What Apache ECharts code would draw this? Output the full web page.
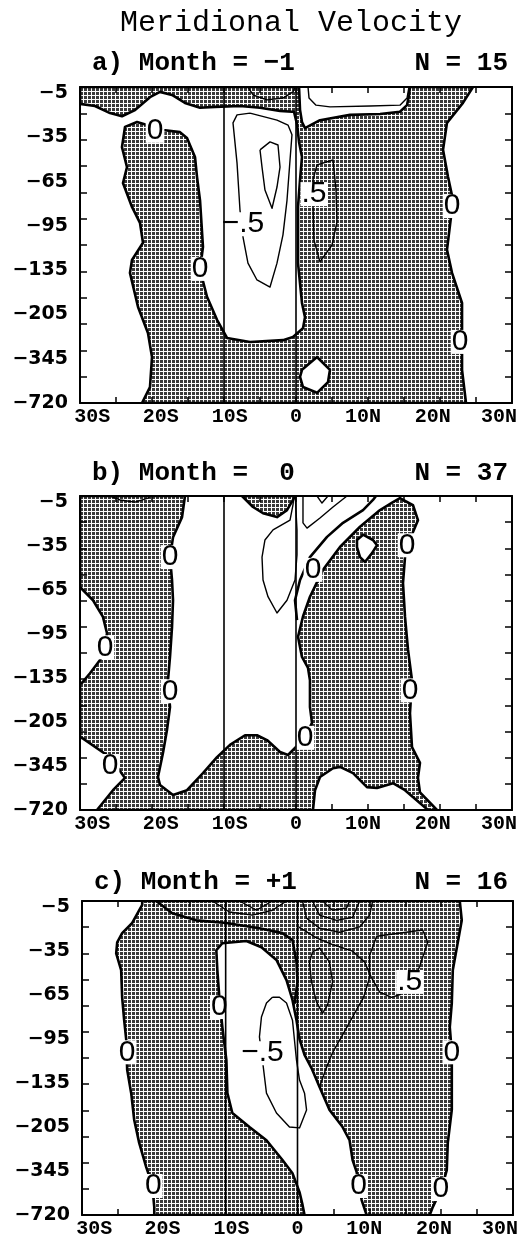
<!DOCTYPE html>
<html>
<head>
<meta charset="utf-8">
<script src="https://cdn.jsdelivr.net/npm/echarts@6.0.0/dist/echarts.min.js"></script>
<style>
html,body{margin:0;padding:0;background:#fff;}
#chart{width:524px;height:1246px;}
</style>
</head>
<body>
<div id="chart"></div>
<script>
// ---------- texts and tick labels ----------
const chartTitle = 'Meridional Velocity';
const panelTitles = ['a) Month = \u22121', 'b) Month =  0', 'c) Month = +1'];
const panelCounts = ['N = 15', 'N = 37', 'N = 16'];
const latLabels = ['30S', '20S', '10S', '0', '10N', '20N', '30N'];
const depthLabels = ['\u22125', '\u221235', '\u221265', '\u221295', '\u2212135', '\u2212205', '\u2212345', '\u2212720'];

// Coordinates: [latitude (deg, S negative), depth level index (0 = -5 m ... 7 = -720 m)]
// ---------- panel a (Month = -1) ----------
const aShaded = [
  [[-30,-0.14],[0.42,-0.14],[0.56,0.38],[0.83,0.65],[1.25,0.79],[3.33,0.61],[7.5,0.49],[11.67,0.47],[14.44,0.42],[15.42,0.27],[15.69,0.04],[15.83,-0.14],[24.58,-0.14],[23.19,0.22],[20.97,0.67],[20.42,1.28],[21.11,1.89],[21.81,2.42],[21.39,2.98],[20.97,3.54],[21.67,4.06],[23.06,4.74],[23.06,5.58],[23.06,6.25],[23.61,7],[-21.39,7],[-20.28,6.64],[-20,5.96],[-20.56,5.42],[-21.94,4.83],[-23.06,4.06],[-22.78,3.77],[-21.25,3.38],[-21.67,2.93],[-22.78,2.57],[-24.03,2.03],[-23.47,1.67],[-24.17,1.22],[-23.75,0.76],[-22.08,0.65],[-20.69,0.72],[-18.47,0.83],[-16.11,0.88],[-15.14,1.01],[-14.03,1.44],[-13.75,1.89],[-13.33,2.42],[-12.92,3.47],[-13.33,3.99],[-12.36,4.6],[-10.97,5.12],[-9.58,5.53],[-6.39,5.62],[-1.81,5.58],[-0.42,5.51],[0.97,5.31],[1.25,5.06],[0.83,4.74],[0.28,3.84],[0.28,2.57],[0.56,1.96],[0.83,1.44],[0.42,1.1],[0.14,0.7],[-0.28,0.42],[-0.56,0.42],[-2.22,0.4],[-5,0.33],[-7.78,0.29],[-11.25,0.31],[-13.33,0.33],[-15.42,0.22],[-17.22,0.04],[-18.89,-0.03],[-20.28,0.09],[-22.36,0.38],[-24.17,0.52],[-25.83,0.45],[-27.92,0.29],[-30,0.24]]
];
const aHoles = [
  [[0.83,6.25],[2.92,5.96],[4.72,6.25],[4.44,6.53],[2.92,6.77],[0.97,6.64],[0.56,6.41]]
];
const aThick = [];
const aThin = [
  [[-6.39,0.45],[-8.19,0.49],[-8.75,0.67],[-8.19,1.58],[-7.78,2.64],[-7.36,3.25],[-6.67,3.84],[-5.42,4.22],[-3.61,4.38],[-2.64,3.84],[-1.81,3.2],[-1.25,2.42],[-0.83,1.51],[-0.56,0.94],[-1.11,0.72],[-2.64,0.61],[-6.39,0.45]],
  [[-5,1.28],[-3.61,1.1],[-2.5,1.17],[-2.22,1.67],[-2.64,2.12],[-3.33,2.6],[-4.31,2.19],[-4.72,1.67],[-5,1.28]],
  [[-6.67,-0.14],[-5.97,0.04],[-4.03,0.15],[-1.81,0.11],[-0.42,-0.03],[-0.14,-0.14]],
  [[1.67,-0.14],[1.81,0.11],[2.78,0.27],[4.72,0.31],[10.28,0.29],[14.44,0.27],[15.42,0.11],[15.69,-0.14]],
  [[2.92,1.62],[5.14,1.51],[5.56,2.19],[5.69,2.91],[5,3.43],[3.33,3.81],[2.5,3.32],[2.36,2.57],[2.36,1.96],[2.92,1.62]]
];
const aLabels = [['0',-19.58,0.85],['0',-13.33,3.97],['0',21.67,2.55],['0',22.78,5.62],['.5',2.5,2.28],['\u2212.5',-7.36,2.96]];

// ---------- panel b (Month = 0) ----------
const bShaded = [
  [[-30,-0.14],[-15.42,-0.14],[-15.83,0.34],[-17.08,0.8],[-17.5,1.25],[-17.22,1.77],[-17.08,2.23],[-17.22,2.84],[-17.5,3.52],[-17.78,4.05],[-17.5,4.66],[-17.92,5.18],[-18.47,5.7],[-19.17,6.25],[-18.89,6.43],[-17.08,6.66],[-15.14,6.55],[-12.92,6.16],[-10.97,5.8],[-9.17,5.52],[-7.08,5.3],[-5.42,5.3],[-4.03,5.41],[-2.22,5.68],[-1.11,5.75],[-0.14,5.59],[1.25,5.36],[2.22,5.02],[1.94,4.66],[1.94,4.05],[1.67,3.77],[0.83,3.52],[0.28,3.06],[0.97,2.6],[1.94,2.15],[3.75,1.54],[6.11,1.02],[8.89,0.56],[11.67,0.18],[13.47,0],[14.44,-0.09],[16.25,0.07],[16.94,0.41],[16.25,0.68],[15.42,0.98],[15.14,1.25],[14.86,1.84],[15.14,2.61],[15.56,3.36],[16.11,4.05],[15.83,4.8],[16.11,5.57],[17.22,5.93],[16.94,6.27],[17.22,6.6],[19.58,7],[18.33,7],[15.14,6.55],[13.47,6.39],[11.25,6.5],[9.86,6.48],[7.92,6.16],[6.11,6.02],[5.14,6.05],[3.33,6.25],[2.64,6.55],[2.36,7],[-27.64,7],[-25.42,6.55],[-23.75,6.27],[-25.83,5.8],[-29.72,5.36],[-30,5.36],[-30,4.11],[-29.72,4.11],[-28.61,3.89],[-27.22,3.59],[-26.53,3.3],[-26.25,2.98],[-26.81,2.61],[-28.19,2.23],[-30,1.93]],
  [[-7.5,-0.14],[-5.97,0.11],[-4.58,0.25],[-2.64,0.34],[-1.25,0.18],[-0.42,-0.05],[-0.14,-0.14]]
];
const bHoles = [
  [[8.47,0.86],[9.31,0.74],[10.69,0.86],[11.25,0.98],[10.56,1.16],[9.58,1.36],[8.89,1.25],[8.47,1.02]]
];
const bThick = [
  [[0.14,2.68],[-0.14,2.23],[0.56,1.77],[1.94,1.25],[4.31,0.79],[6.53,0.47],[9.31,0.18],[10.69,-0.05],[11.11,-0.14]]
];
const bThin = [
  [[-0.28,-0.14],[-0.42,0.06],[-0.83,0.41],[-3.19,0.63],[-4.31,0.86],[-4.72,1.25],[-4.58,1.77],[-3.89,2.15],[-2.64,2.52],[-1.25,2.23],[-0.14,1.77],[0.14,1.2],[0.14,0.63],[0,0.2],[-0.1,-0.14]],
  [[0.97,-0.14],[0.97,0.47],[1.53,0.59],[3.33,0.36],[5.14,0.11],[7.08,-0.14]],
  [[2.92,-0.14],[3.61,0.02],[4.44,-0.14]],
  [[-25.83,-0.14],[-24.44,-0.05],[-22.36,0],[-20.56,-0.09],[-20.28,-0.14]]
];
const bLabels = [['0',-17.5,1.25],['0',-26.53,3.3],['0',-17.5,4.3],['0',-25.83,6.0],['0',1.25,5.36],['0',15.42,0.98],['0',2.36,1.54],['0',15.83,4.28]];

// ---------- panel c (Month = +1) ----------
const cShaded = [
  [[-21.62,-0.14],[22.59,-0.14],[22.87,0.3],[21.62,1.43],[21.48,2.18],[21.2,2.73],[21.48,3.3],[21.48,3.77],[21.48,4.61],[20.92,5.36],[20.78,5.98],[20.08,6.39],[18.83,6.82],[18.41,7],[9.62,7],[8.93,6.66],[8.23,6.02],[7.67,5.75],[7.25,5.3],[6.28,5],[4.46,4.61],[3.07,4.09],[1.95,3.66],[0.98,3.36],[0.28,3],[-0.14,2.57],[-0.7,2.11],[-1.53,1.66],[-2.93,1.2],[-5.02,0.91],[-7.11,0.77],[-10.46,0.82],[-11.3,0.98],[-11.16,1.43],[-10.88,2.05],[-10.46,2.73],[-9.9,3.48],[-9.76,4.23],[-9.07,4.68],[-6.69,5],[-4.32,5.3],[-2.09,5.75],[-0.7,6.05],[0.28,6.48],[0.7,6.77],[0.98,7],[-19.94,7],[-19.94,6.82],[-20.22,6.32],[-21.06,5.91],[-22.04,5.36],[-22.73,4.84],[-23.15,4.23],[-23.71,3.7],[-23.85,3],[-24.13,2.57],[-24.41,2.05],[-24.55,1.43],[-25.24,1.05],[-25.1,0.8],[-24.41,0.59],[-23.01,0.36],[-21.62,-0.05]]
];
const cHoles = [];
const cThick = [
  [[-19.67,-0.14],[-17.43,0.14],[-14.09,0.3],[-9.9,0.36],[-5.3,0.48],[-2.09,0.59],[-0.7,0.75],[-0.14,1.25],[0,1.7],[-0.42,2.2]]
];
const cThin = [
  [[-3.49,2.05],[-4.32,2.18],[-5.02,2.5],[-5.3,2.95],[-4.88,3.48],[-4.32,4.23],[-2.93,4.68],[-1.12,5],[0.28,5.02],[1.26,4.61],[0.98,4.23],[0.28,3.93],[-0.14,3.48],[-0.7,2.57],[-1.53,2.18],[-2.51,2.05],[-3.49,2.05]],
  [[1.67,1.25],[2.09,1.02],[3.07,0.93],[4.46,1.25],[4.88,1.7],[4.18,2.23],[3.49,2.41],[2.65,2.16],[1.95,1.7],[1.67,1.25]],
  [[0.7,-0.14],[1.26,0.25],[3.07,0.48],[5.86,0.57],[8.65,0.45],[10.04,0.18],[10.46,-0.14]],
  [[2.09,-0.14],[3.07,0.18],[5.44,0.3],[7.67,0.23],[8.65,-0.14]],
  [[3.49,-0.14],[4.88,0.07],[6.83,0.02],[7.25,-0.14]],
  [[0.14,0.45],[2.65,0.7],[4.88,0.85],[7.67,1.0],[9.34,1.25],[10.32,1.61],[11.44,1.93],[13.1,2.05],[14.4,1.98]],
  [[15.9,1.8],[17.0,1.35],[18.13,0.8],[17.43,0.52],[11.02,0.66],[10.04,1.1],[10.04,1.6],[9.2,2.05],[8.0,2.4],[6.3,2.9],[4.9,3.3],[3.9,3.7],[3.07,4.09]],
  [[-11.85,-0.14],[-9.48,0.11],[-6.28,0.18],[-3.49,0.07],[-1.53,-0.14]],
  [[-8.09,-0.14],[-5.72,0.07],[-3.49,-0.14]]
];
const cLabels = [['0',-10.88,2.27],['0',-23.71,3.3],['0',21.48,3.3],['\u2212.5',-4.88,3.32],['.5',15.62,1.7],['0',-20.08,6.34],['0',8.51,6.34],['0',19.94,6.41]];

// ---------- layout / style (not data) ----------
const panels = [
  {shaded:aShaded, holes:aHoles, thick:aThick, thin:aThin, labels:aLabels, top:87,  height:316, left:80, width:432, titleY:63},
  {shaded:bShaded, holes:bHoles, thick:bThick, thin:bThin, labels:bLabels, top:496, height:314, left:80, width:432, titleY:473},
  {shaded:cShaded, holes:cHoles, thick:cThick, thin:cThin, labels:cLabels, top:901, height:314, left:82, width:431, titleY:882}
];
const Y_MIN = -0.14, Y_MAX = 7;
const yTickVals = Array.from({length:13}, (_, k) => Y_MIN + k * (Y_MAX - Y_MIN) / 12);
const xTickVals = [-25,-20,-15,-10,-5,0,5,10,15,20,25];
const xLabelPos = [-28.3,-18.8,-9.2,0,9.3,19,28.2];
const refLats = [-10, 0];

function makeHatch() {
  const c = document.createElement('canvas');
  c.width = 4; c.height = 4;
  const g = c.getContext('2d');
  g.fillStyle = '#ffffff'; g.fillRect(0, 0, 4, 4);
  g.fillStyle = '#3a3a3a'; g.fillRect(0, 0, 3, 3);
  return c;
}
const hatch = {image: makeHatch(), repeat: 'repeat'};

function nearestIdx(arr, v) {
  let b = 0;
  for (let i = 1; i < arr.length; i++) if (Math.abs(arr[i] - v) < Math.abs(arr[b] - v)) b = i;
  return b;
}

const grids = [], xAxes = [], yAxes = [], series = [], graphics = [];
graphics.push({type:'text', x:291, y:23, z:100, style:{text:chartTitle, font:'30px "Liberation Mono", monospace', fill:'#000', align:'center', verticalAlign:'middle'}});

panels.forEach((P, i) => {
  grids.push({left:P.left, top:P.top, width:P.width, height:P.height, show:false});
  const lineStyle = {color:'#000', width:2};
  xAxes.push({
    type:'value', gridIndex:i, position:'bottom', min:-30, max:30, z:20,
    axisLine:{show:true, onZero:false, lineStyle},
    axisTick:{show:true, inside:true, length:6, customValues:xTickVals, lineStyle:{color:'#000', width:1.5}},
    axisLabel:{show:true, customValues:xLabelPos, margin:4, color:'#000',
      fontFamily:'"Liberation Mono", monospace', fontWeight:'bold', fontSize:20,
      formatter:(v) => latLabels[nearestIdx(xLabelPos, v)]},
    splitLine:{show:false}
  });
  xAxes.push({
    type:'value', gridIndex:i, position:'top', min:-30, max:30, z:20,
    axisLine:{show:true, onZero:false, lineStyle},
    axisTick:{show:true, inside:true, length:6, customValues:xTickVals, lineStyle:{color:'#000', width:1.5}},
    axisLabel:{show:false}, splitLine:{show:false}
  });
  yAxes.push({
    type:'value', gridIndex:i, position:'left', min:Y_MIN, max:Y_MAX, inverse:true, z:20,
    axisLine:{show:true, onZero:false, lineStyle},
    axisTick:{show:true, inside:true, length:7, customValues:yTickVals, lineStyle:{color:'#000', width:1.5}},
    axisLabel:{show:true, customValues:[0,1,2,3,4,5,6,7], margin:12, color:'#000',
      fontFamily:'"DejaVu Sans", sans-serif', fontWeight:'bold', fontSize:19,
      formatter:(v) => depthLabels[Math.round(v)]},
    splitLine:{show:false}
  });
  yAxes.push({
    type:'value', gridIndex:i, position:'right', min:Y_MIN, max:Y_MAX, inverse:true, z:20,
    axisLine:{show:true, onZero:false, lineStyle},
    axisTick:{show:true, inside:true, length:7, customValues:yTickVals, lineStyle:{color:'#000', width:1.5}},
    axisLabel:{show:false}, splitLine:{show:false}
  });
  const base = {type:'custom', coordinateSystem:'cartesian2d', xAxisIndex:2*i, yAxisIndex:2*i, clip:true, silent:true, animation:false};

  series.push(Object.assign({}, base, {z:2, data:P.shaded.map(() => [0,0]),
    renderItem:(params, api) => ({type:'polygon', shape:{points:P.shaded[params.dataIndex].map(p => api.coord(p))},
      style:{fill:hatch, stroke:'#000', lineWidth:2.6, lineJoin:'round'}})}));
  series.push(Object.assign({}, base, {z:3, data:P.holes.map(() => [0,0]),
    renderItem:(params, api) => ({type:'polygon', shape:{points:P.holes[params.dataIndex].map(p => api.coord(p))},
      style:{fill:'#fff', stroke:'#000', lineWidth:2.6, lineJoin:'round'}})}));
  series.push(Object.assign({}, base, {z:4, data:P.thick.map(() => [0,0]),
    renderItem:(params, api) => ({type:'polyline', shape:{points:P.thick[params.dataIndex].map(p => api.coord(p))},
      style:{fill:'none', stroke:'#000', lineWidth:2.6, lineJoin:'round'}})}));
  series.push(Object.assign({}, base, {z:4, data:P.thin.map(() => [0,0]),
    renderItem:(params, api) => ({type:'polyline', shape:{points:P.thin[params.dataIndex].map(p => api.coord(p))},
      style:{fill:'none', stroke:'#000', lineWidth:1.4, lineJoin:'round'}})}));
  series.push(Object.assign({}, base, {z:5, clip:false, data:P.labels.map(() => [0,0]),
    renderItem:(params, api) => {
      const L = P.labels[params.dataIndex];
      const p = api.coord([L[1], L[2]]);
      const zero = L[0] === '0';
      return {type:'text', x:p[0], y:p[1], style:{text:L[0], fill:'#000',
        font: zero ? '30px "Liberation Sans Narrow", "Liberation Sans", sans-serif' : '30px "Liberation Sans", sans-serif',
        align:'center', verticalAlign:'middle', backgroundColor:'#fff', padding:[0,1], lineHeight:24}};
    }}));
  series.push(Object.assign({}, base, {z:6, data:refLats.map(v => [v, 0]),
    renderItem:(params, api) => {
      const v = refLats[params.dataIndex];
      const a = api.coord([v, Y_MIN]), b = api.coord([v, Y_MAX]);
      return {type:'line', shape:{x1:a[0], y1:a[1], x2:b[0], y2:b[1]}, style:{stroke:'#000', lineWidth:1.6}};
    }}));

  graphics.push({type:'text', x:P.left + 12, y:P.titleY, z:100, style:{text:panelTitles[i], font:'bold 26px "Liberation Mono", monospace', fill:'#000', align:'left', verticalAlign:'middle'}});
  graphics.push({type:'text', x:508, y:P.titleY, z:100, style:{text:panelCounts[i], font:'bold 26px "Liberation Mono", monospace', fill:'#000', align:'right', verticalAlign:'middle'}});
});

const chart = echarts.init(document.getElementById('chart'), null, {renderer:'canvas'});
chart.setOption({
  animation:false,
  backgroundColor:'#fff',
  grid:grids, xAxis:xAxes, yAxis:yAxes, series:series, graphic:graphics
});
</script>
</body>
</html>
